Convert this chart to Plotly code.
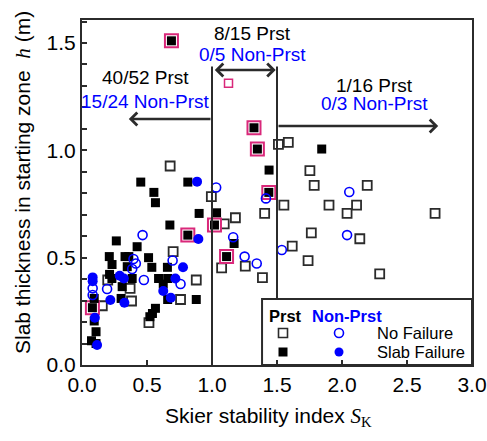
import plotly.graph_objects as go

# ---------------- data (SK calibrated to its tick labels) ----------------
# Persistent weak layer ("Prst"), slab failure  -> filled black squares
prst_fail_x = [0.452, 0.814, 0.553, 0.565, 0.901, 0.676, 0.814, 0.264, 0.424, 0.21, 0.331, 0.36,
               0.512, 0.231, 0.348, 0.537, 0.657, 0.212, 0.23, 0.386, 0.589, 0.659, 0.625, 0.309,
               0.094, 0.301, 0.659, 0.879, 0.08, 0.565, 0.542, 0.522, 0.094, 0.108, 0.073, 0.108, 0.688,
               1.323, 1.349, 1.439, 1.035, 1.019, 1.17, 1.112, 1.437,
               1.844]
prst_fail_y = [0.852, 0.852, 0.804, 0.756, 0.706, 0.652, 0.605, 0.578, 0.551, 0.505, 0.505, 0.505,
               0.50, 0.468, 0.458, 0.455, 0.455, 0.422, 0.403, 0.403, 0.403, 0.403, 0.377, 0.365,
               0.31, 0.31, 0.305, 0.305, 0.267, 0.264, 0.24, 0.225, 0.205, 0.155, 0.113, 0.10, 1.51,
               1.105, 1.006, 0.908, 0.709, 0.652, 0.566, 0.505, 0.804,
               1.006]

# Prst, no failure -> open squares
prst_nofail_x = [0.678, 0.701, 0.198, 0.37, 0.879, 0.758, 0.381, 0.156, 0.515,
                 0.995, 1.405, 1.18, 1.094, 1.256, 1.074, 1.388,
                 1.511, 1.587, 1.753, 1.786, 2.194, 1.553, 1.90, 2.112, 2.039, 2.716,
                 1.764, 2.137, 1.617, 1.739, 2.29]
prst_nofail_y = [0.927, 0.528, 0.396, 0.357, 0.396, 0.305, 0.298, 0.276, 0.197,
                 0.784, 0.706, 0.686, 0.657, 0.461, 0.452, 0.407,
                 1.028, 1.037, 0.905, 0.837, 0.837, 0.745, 0.745, 0.745, 0.706, 0.706,
                 0.615, 0.588, 0.554, 0.486, 0.424]

# Non-persistent, slab failure -> filled blue circles
nonprst_fail_x = [0.885, 0.895, 0.777, 0.082, 0.082, 0.29, 0.322, 0.718, 0.625, 0.683, 0.218, 0.326,
                  0.099, 0.116]
nonprst_fail_y = [0.854, 0.587, 0.455, 0.408, 0.39, 0.416, 0.403, 0.403, 0.345, 0.313, 0.303, 0.29,
                  0.22, 0.093]

# Non-persistent, no failure -> open blue circles
nonprst_nofail_x = [0.466, 0.396, 0.414, 0.386, 0.697, 0.476, 0.758, 0.082, 0.082, 0.193,
                    1.032, 1.415, 1.163, 1.251, 1.344,
                    2.056, 2.039, 1.537]
nonprst_nofail_y = [0.605, 0.494, 0.473, 0.447, 0.487, 0.396, 0.377, 0.357, 0.326, 0.354,
                    0.827, 0.776, 0.595, 0.505, 0.473,
                    0.806, 0.605, 0.536]

# Highlighted (pink framed) cases
pink_frame_x = [0.688, 0.814, 0.08, 1.323, 1.349, 1.019, 1.112, 1.437]
pink_frame_y = [1.51, 0.605, 0.267, 1.105, 1.006, 0.652, 0.505, 0.804]
pink_open_x = [1.127]
pink_open_y = [1.312]

# Region counts: (top text, bottom text, x centre, y top, y bottom)
region_labels = [("40/52 Prst", "15/24 Non-Prst", 0.49, 1.337, 1.228),
                 ("8/15 Prst", "0/5 Non-Prst", 1.31, 1.546, 1.444),
                 ("1/16 Prst", "0/3 Non-Prst", 2.25, 1.304, 1.216)]
x_ticks = [0.0, 0.5, 1.0, 1.5, 2.0, 2.5, 3.0]
y_ticks = [0.0, 0.5, 1.0, 1.5]

# ---------------- styling ----------------
BLUE = "#0000FF"
PINK = "#D9287A"
DARK = "#2b2b2b"
SANS = "Liberation Sans, Arial, sans-serif"
SERIF = "Liberation Serif"

fig = go.Figure()

fig.add_trace(go.Scatter(x=prst_nofail_x, y=prst_nofail_y, mode="markers",
                         marker=dict(symbol="square", size=9, color="white",
                                     line=dict(color=DARK, width=1.8)),
                         showlegend=False, cliponaxis=False))
fig.add_trace(go.Scatter(x=pink_frame_x, y=pink_frame_y, mode="markers",
                         marker=dict(symbol="square", size=13, color="white",
                                     line=dict(color=PINK, width=2)),
                         showlegend=False, cliponaxis=False))
fig.add_trace(go.Scatter(x=pink_open_x, y=pink_open_y, mode="markers",
                         marker=dict(symbol="square", size=8, color="white",
                                     line=dict(color=PINK, width=1.5)),
                         showlegend=False, cliponaxis=False))
fig.add_trace(go.Scatter(x=prst_fail_x, y=prst_fail_y, mode="markers",
                         marker=dict(symbol="square", size=9, color="black",
                                     line=dict(width=0)),
                         showlegend=False, cliponaxis=False))
fig.add_trace(go.Scatter(x=nonprst_nofail_x, y=nonprst_nofail_y, mode="markers",
                         marker=dict(symbol="circle", size=9, color="rgba(255,255,255,0)",
                                     line=dict(color=BLUE, width=1.6)),
                         showlegend=False, cliponaxis=False))
fig.add_trace(go.Scatter(x=nonprst_fail_x, y=nonprst_fail_y, mode="markers",
                         marker=dict(symbol="circle", size=10, color=BLUE,
                                     line=dict(width=0)),
                         showlegend=False, cliponaxis=False))

shapes = [
    dict(type="line", xref="x", yref="y", x0=1.0, x1=1.0, y0=0, y1=1.39,
         line=dict(color=DARK, width=2)),
    dict(type="line", xref="x", yref="y", x0=1.5, x1=1.5, y0=0.307, y1=1.39,
         line=dict(color=DARK, width=2)),
    dict(type="rect", xref="x", yref="y", x0=1.385, x1=3.0, y0=0, y1=0.307,
         line=dict(color=DARK, width=2), fillcolor="white", layer="below"),
]

# legend glyphs (pixel-sized, positioned in paper coords)
def px2paper(px, py):
    return (px - 82) / 390.0, (365 - py) / 345.0

def glyph(kind, px, py, filled, color):
    xp, yp = px2paper(px, py)
    return dict(type=kind, xref="paper", yref="paper", xsizemode="pixel", ysizemode="pixel",
                xanchor=xp, yanchor=yp, x0=-4.5, x1=4.5, y0=-4.5, y1=4.5,
                fillcolor=color if filled else "white",
                line=dict(color=(DARK if kind == "rect" else color) if not filled else color,
                          width=1.6 if not filled else 0),
                layer="above")

shapes += [glyph("rect", 283, 333, False, "black"),
           glyph("circle", 339, 333, False, BLUE),
           glyph("rect", 283, 352, True, "black"),
           glyph("circle", 339, 352, True, BLUE)]

annotations = []
for top, bot, xc, yt, yb in region_labels:
    annotations.append(dict(x=xc, y=yt, xref="x", yref="y", text=top, showarrow=False,
                            font=dict(family=SANS, size=19, color="black")))
    annotations.append(dict(x=xc, y=yb, xref="x", yref="y", text=bot, showarrow=False,
                            font=dict(family=SANS, size=19, color=BLUE)))

arrow_style = dict(showarrow=True, arrowhead=4, arrowsize=1, arrowwidth=2.5,
                   arrowcolor=DARK, text="", xref="x", yref="y", axref="x", ayref="y",
                   standoff=0, startstandoff=0)
annotations.append(dict(x=0.36, y=1.146, ax=1.0, ay=1.146, **arrow_style))
annotations.append(dict(x=1.49, y=1.374, ax=1.01, ay=1.374, arrowside="end+start",
                        startarrowhead=4, **arrow_style))
annotations.append(dict(x=2.74, y=1.113, ax=1.5, ay=1.113, **arrow_style))

# legend text
def ptext(px, py, text, color, size, xanchor="left", **kw):
    xp, yp = px2paper(px, py)
    return dict(x=xp, y=yp, xref="paper", yref="paper", xanchor=xanchor, yanchor="middle",
                text=text, showarrow=False, font=dict(family=SANS, size=size, color=color), **kw)

annotations.append(ptext(267, 316, "<b>Prst</b>", "black", 16.5))
annotations.append(ptext(310, 316, "<b>Non-Prst</b>", BLUE, 16.5))
annotations.append(ptext(375, 333, "No Failure", "black", 16.5))
annotations.append(ptext(375, 352, "Slab Failure", "black", 16.5))

# axis titles
annotations.append(ptext(23, 183,
                         'Slab thickness in starting zone  <span style="font-family:%s"><i>h</i></span> (m)' % SERIF,
                         "black", 21, xanchor="center", textangle=-90))
annotations.append(ptext(268, 417,
                         'Skier stability index <span style="font-family:%s"><i>S</i><sub>K</sub></span>' % SERIF,
                         "black", 21, xanchor="center"))

fig.update_layout(
    width=487, height=441,
    margin=dict(l=82, r=15, t=20, b=76, autoexpand=False),
    paper_bgcolor="white", plot_bgcolor="white",
    shapes=shapes, annotations=annotations,
    showlegend=False,
    xaxis=dict(range=[0, 3], tickvals=x_ticks, ticktext=["%.1f" % v for v in x_ticks],
               ticks="inside", ticklen=5, tickwidth=1.5, tickcolor=DARK,
               showline=True, linecolor=DARK, linewidth=2, mirror=True,
               showgrid=False, zeroline=False, automargin=False,
               tickfont=dict(family=SANS, size=21, color="black")),
    yaxis=dict(range=[0, 1.607], tickvals=y_ticks, ticktext=["%.1f" % v for v in y_ticks],
               ticks="inside", ticklen=5, tickwidth=1.5, tickcolor=DARK,
               minor=dict(dtick=0.1, ticks="inside", ticklen=5, tickwidth=1.5, tickcolor=DARK),
               showline=True, linecolor=DARK, linewidth=2, mirror=True,
               showgrid=False, zeroline=False, automargin=False,
               tickfont=dict(family=SANS, size=21, color="black")),
)

fig.write_html("out.html", config={"displayModeBar": False},
               post_script="document.body.style.margin='0';document.body.style.overflow='hidden';")
